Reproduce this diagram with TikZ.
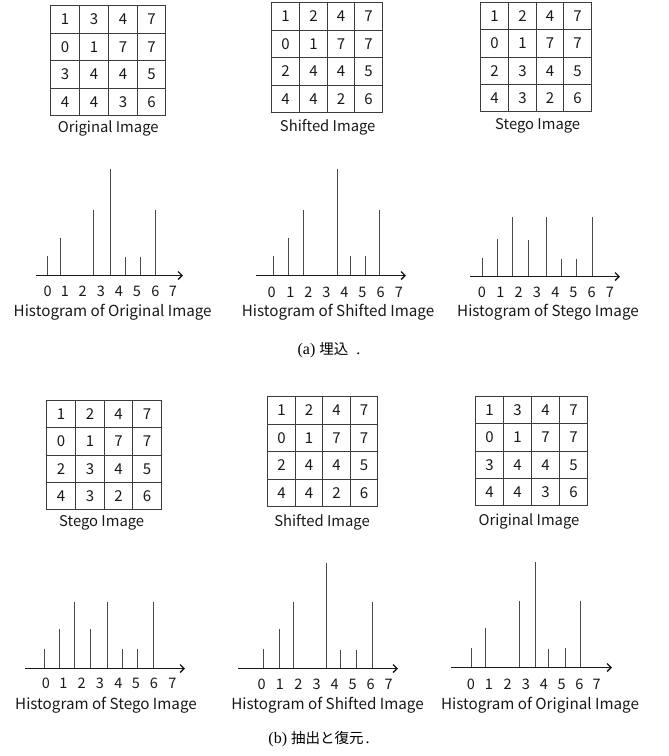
\documentclass[tikz,border=0pt]{standalone}
\usepackage{fontspec}
\setmainfont{Liberation Serif}
\newfontfamily\jpsans{Noto Sans CJK JP}
\usetikzlibrary{arrows.meta}
\definecolor{gridc}{HTML}{3C3C3C}
\definecolor{barc}{HTML}{484848}
\tikzset{
  cell/.style={draw=gridc, line width=1.3pt, inner sep=0pt, outer sep=0pt,
    font=\jpsans\fontsize{15}{15}\selectfont, text=black!90},
  lbl/.style={font=\jpsans\fontsize{14.8}{14.8}\selectfont, inner sep=0pt, text=black!90},
  hlbl/.style={font=\jpsans\fontsize{15.2}{15.2}\selectfont, inner sep=0pt, text=black!90},
  digit/.style={font=\jpsans\fontsize{14.5}{14.5}\selectfont, inner sep=0pt, text=black!90},
  axisline/.style={line width=1.3pt, black!90, -{Straight Barb[length=4pt,width=8pt,line width=1.3pt]}},
  barline/.style={line width=1.3pt, barc},
  figcap/.style={font=\fontsize{16}{16}\selectfont, inner sep=0pt},
}
\newcommand\capjp{\jpsans\fontsize{14.5}{14.5}\selectfont}
% #1 name, #2 x lines (5), #3 y lines (5), #4 rows
\newcommand\pixgrid[4]{%
  \foreach \row [count=\r from 0] in {#4} {
    \foreach \v [count=\c from 0] in \row {
      \pgfmathsetmacro\xl{{#2}[\c]}
      \pgfmathsetmacro\xr{{#2}[\c+1]}
      \pgfmathsetmacro\yt{{#3}[\r]}
      \pgfmathsetmacro\yb{{#3}[\r+1]}
      \pgfmathsetmacro\cw{\xr-\xl}
      \pgfmathsetmacro\ch{\yb-\yt}
      \pgfmathsetmacro\cx{(\xl+\xr)/2}
      \pgfmathsetmacro\cy{(\yt+\yb)/2}
      \node[cell, minimum width=\cw pt, minimum height=\ch pt] (#1-\r-\c)
        at (\cx,\cy) {\v};
    }
  }%
}
% #1 name, #2 axis y, #3 x start, #4 x end, #5 bars x/h, #6 digit y, #7 digit xs
\newcommand\histo[7]{%
  \coordinate (#1-s) at (#3,#2);
  \coordinate (#1-e) at (#4,#2);
  \foreach \bx/\bh [count=\i] in {#5} {
    \coordinate (#1-b\i) at (\bx,#2);
    \coordinate (#1-t\i) at (\bx,#2-\bh);
    \draw[barline] (#1-b\i) -- (#1-t\i);
  }
  \draw[axisline] (#1-s) -- (#1-e);
  \foreach \dx [count=\i from 0] in {#7} {
    \node[digit] (#1-d\i) at (\dx,#6) {\i};
  }%
}
\begin{document}
\begin{tikzpicture}[x=1pt,y=-1pt]
\useasboundingbox[fill=white] (0,0) rectangle (669,756);

% ---------- (a) top row: images ----------
\pixgrid{ga}{50.5,79.5,108.5,137.5,165.5}{5.5,33.5,60.5,88.5,115.5}{{1,3,4,7},{0,1,7,7},{3,4,4,5},{4,4,3,6}}
\node[lbl] (la) at (108.2,128.3) {Original Image};
\pixgrid{gb}{271.5,299.5,327.5,354.5,382.5}{2.5,30.5,57.5,85.5,112.5}{{1,2,4,7},{0,1,7,7},{2,4,4,5},{4,4,2,6}}
\node[lbl] (lb) at (327.7,127.7) {Shifted Image};
\pixgrid{gc}{480.5,508.5,536.5,563.5,591.5}{2.5,29.5,57.5,84.5,111.5}{{1,2,4,7},{0,1,7,7},{2,3,4,5},{4,3,2,6}}
\node[lbl] (lc) at (537.7,125.7) {Stego Image};

% ---------- (a) histograms ----------
\histo{ha}{275.5}{36}{183}{47.5/20,60.5/38,93.5/66,110.5/107,125.5/19,140.5/19,155.5/66}{291.5}{47.7,65,82.7,101,119,137,155.3,173}
\node[hlbl] (hla) at (112.7,312.3) {Histogram of Original Image};
\histo{hb}{275.5}{256}{406}{273.5/20,288.5/38,303.5/66,337.5/107,350.5/20,365.5/20,379.5/66}{292}{271.7,290.3,308.3,326.3,344.3,362.3,380.7,399}
\node[hlbl] (hlb) at (338,312.3) {Histogram of Shifted Image};
\histo{hc}{276.5}{470}{620}{482.5/19,497.5/38,512.5/60,528.5/37,546.5/60,561.5/18,576.5/18,592.5/60}{292.5}{482,500.3,518.7,537,555.3,573.3,591.7,610}
\node[hlbl] (hlc) at (548,312.3) {Histogram of Stego Image};

\node[figcap] (capa) at (329,350) {(a)\hspace{4pt}{\capjp 埋込}\hspace{8pt}.};

% ---------- (b) images ----------
\pixgrid{gd}{46.5,75.5,104.5,132.5,161.5}{400.5,427.5,455.5,482.5,509.5}{{1,2,4,7},{0,1,7,7},{2,3,4,5},{4,3,2,6}}
\node[lbl] (ld) at (101.7,523.3) {Stego Image};
\pixgrid{ge}{267.5,295.5,322.5,350.5,377.5}{396.5,424.5,451.5,479.5,506.5}{{1,2,4,7},{0,1,7,7},{2,4,4,5},{4,4,2,6}}
\node[lbl] (le) at (322,522.3) {Shifted Image};
\pixgrid{gf}{475.5,503.5,531.5,559.5,587.5}{396.5,423.5,451.5,478.5,505.5}{{1,3,4,7},{0,1,7,7},{3,4,4,5},{4,4,3,6}}
\node[lbl] (lf) at (529,521.7) {Original Image};

% ---------- (b) histograms ----------
\histo{hd}{668.5}{25}{185}{44.5/20,59.5/40,74.5/67,90.5/40,107.5/67,122.5/20,137.5/20,153.5/67}{683.5}{46,63.3,81.7,100,118.3,136,154,172.3}
\node[hlbl] (hld) at (106,705) {Histogram of Stego Image};
\histo{he}{668.5}{238}{398}{263.5/20,279.5/40,293.5/67,326.5/106,340.5/19,356.5/19,372.5/67}{684}{261.7,280,298.3,316.7,334.7,352.7,370.7,388.7}
\node[hlbl] (hle) at (327.5,705) {Histogram of Shifted Image};
\histo{hf}{667.5}{451}{612}{471.5/20,485.5/40,519.5/67,535.5/106,548.5/19,565.5/20,580.5/67}{684}{471,489,507.7,526,544,561.7,579.3,596.7}
\node[hlbl] (hlf) at (540,705) {Histogram of Original Image};

\node[figcap] (capb) at (319,739) {(b)\hspace{4pt}{\capjp 抽出と復元}\hspace{2pt}.};
\end{tikzpicture}
\end{document}
